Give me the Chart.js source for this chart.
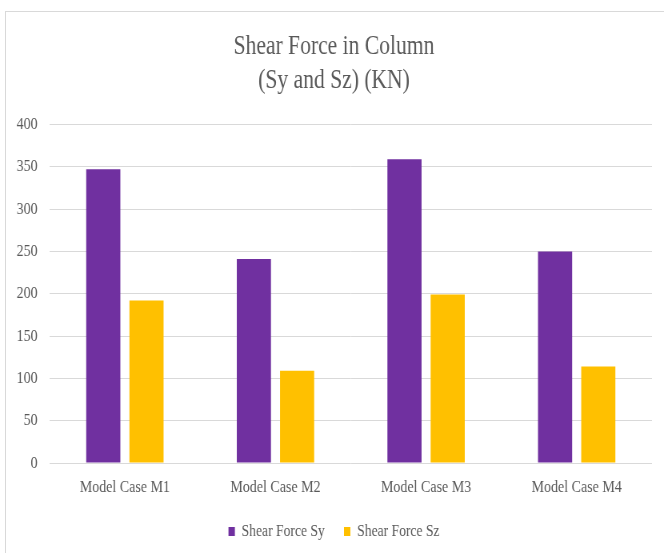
<!DOCTYPE html>
<html>
<head>
<meta charset="utf-8">
<script src="https://cdn.jsdelivr.net/npm/chart.js@4"></script>
<style>
  html, body { margin: 0; padding: 0; background: #fff; }
  #frame {
    position: absolute; left: 5px; top: 11px; width: 659px; height: 542px;
    border-top: 1px solid #d9d9d9; border-left: 1px solid #d9d9d9;
  }
  #chart { position: absolute; left: 0; top: 0; }
</style>
</head>
<body>
<div id="frame"></div>
<!-- drawn wider and squeezed to get the narrow serif look -->
<canvas id="chart" width="830" height="553" style="width:664px;height:553px"></canvas>
<script>
// Chart data
const categories = ['Model Case M1', 'Model Case M2', 'Model Case M3', 'Model Case M4'];
const shearSy = [347, 241, 359, 250];
const shearSz = [192, 109, 199, 114];
const yTicks = [0, 50, 100, 150, 200, 250, 300, 350, 400];

const textColor = '#595959';
const serif = "'Liberation Serif', 'Times New Roman', serif";

const ctx = document.getElementById('chart').getContext('2d');

new Chart(ctx, {
    type: 'bar',
    data: {
        labels: categories,
        datasets: [
            {
                label: 'Shear Force Sy',
                data: shearSy,
                backgroundColor: '#7030A0',
                categoryPercentage: 0.574,
                barPercentage: 0.79
            },
            {
                label: 'Shear Force Sz',
                data: shearSz,
                backgroundColor: '#FFC000',
                categoryPercentage: 0.574,
                barPercentage: 0.79
            }
        ]
    },
    options: {
        responsive: false,
        animation: false,
        layout: {
            padding: { left: 20, right: 15, top: 0, bottom: 3 }
        },
        plugins: {
            title: {
                display: true,
                text: ['Shear Force in Column', '(Sy and Sz) (KN)'],
                color: textColor,
                font: { family: serif, size: 27, weight: 'normal', lineHeight: 1.25 },
                padding: { top: 30, bottom: 27 }
            },
            legend: {
                position: 'bottom',
                labels: {
                    color: textColor,
                    font: { family: serif, size: 17 },
                    boxWidth: 8,
                    boxHeight: 9,
                    padding: 24
                }
            },
            tooltip: { enabled: false }
        },
        scales: {
            x: {
                afterFit: function(scale) { scale.height = 36; },
                grid: { display: false },
                border: { display: false },
                ticks: {
                    color: textColor,
                    font: { family: serif, size: 17.5 },
                    padding: 6
                }
            },
            y: {
                min: 0,
                max: 400,
                afterFit: function(scale) { scale.width = 42; },
                afterBuildTicks: function(scale) {
                    scale.ticks = yTicks.map(v => ({ value: v }));
                },
                grid: { color: '#d9d9d9', drawTicks: false, lineWidth: 1 },
                border: { display: false },
                ticks: {
                    color: textColor,
                    font: { family: serif, size: 17.5 },
                    padding: 15
                }
            }
        }
    }
});
</script>
</body>
</html>
